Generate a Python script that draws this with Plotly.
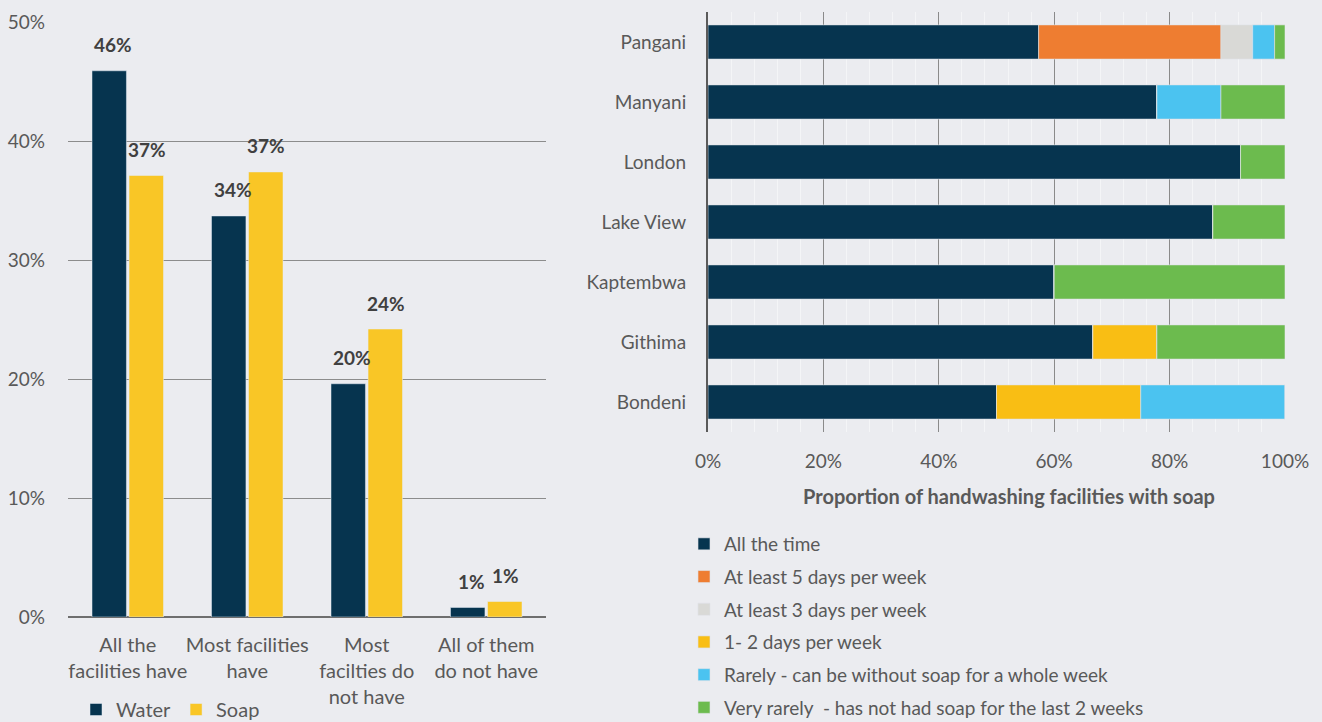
"""Handwashing facilities: water/soap availability and soap frequency by site."""

import plotly.graph_objects as go

# Left chart: availability of water and soap at facilities
avail_cats = [
    "All the<br>facilities have",
    "Most facilities<br>have",
    "Most<br>facilties do<br>not have",
    "All of them<br>do not have",
]
water = [45.9, 33.7, 19.6, 0.8]
soap = [37.1, 37.4, 24.2, 1.3]

# Right chart: proportion of facilities with soap, by site
sites = ["Pangani", "Manyani", "London", "Lake View", "Kaptembwa", "Githima", "Bondeni"]
freq_names = [
    "All the time",
    "At least 5 days per week",
    "At least 3 days per week",
    "1- 2 days per week",
    "Rarely - can be without soap for a whole week",
    "Very rarely  - has not had soap for the last 2 weeks",
]
all_the_time = [57.3, 77.8, 92.3, 87.5, 60.0, 66.7, 50.0]
at_least_5 = [31.6, 0, 0, 0, 0, 0, 0]
at_least_3 = [5.5, 0, 0, 0, 0, 0, 0]
one_two_days = [0, 0, 0, 0, 0, 11.1, 25.0]
rarely = [3.8, 11.1, 0, 0, 0, 0, 25.0]
very_rarely = [1.8, 11.1, 7.7, 12.5, 40.0, 22.2, 0]

freq_values = [all_the_time, at_least_5, at_least_3, one_two_days, rarely, very_rarely]
freq_colors = ["#06344f", "#ee7d31", "#d9d9d6", "#f9be14", "#4bc3f0", "#6cbb4e"]

BG = "#ebecf0"
TEXT = "#595959"
FONT = "Lato"
W, H = 1322, 722

fig = go.Figure()

# Left grouped bars
fig.add_trace(go.Bar(
    x=avail_cats, y=water, name="Water", marker_color="#06344f",
    legend="legend2", xaxis="x", yaxis="y",
))
fig.add_trace(go.Bar(
    x=avail_cats, y=soap, name="Soap", marker_color="#f9c626",
    legend="legend2", xaxis="x", yaxis="y",
))

# Value labels above the left bars
for vals, offset in [(water, -0.12), (soap, 0.16)]:
    for i, v in enumerate(vals):
        fig.add_annotation(
            x=i + offset, y=v, xref="x", yref="y", text=f"<b>{round(v):.0f}%</b>",
            showarrow=False, yshift=26, font=dict(size=19, color="#404040", family=FONT),
        )

# Right stacked bars (stacked by hand, sharing one offset group)
base = [0.0] * len(sites)
for name, vals, color in zip(freq_names, freq_values, freq_colors):
    fig.add_trace(go.Bar(
        y=sites, x=vals, base=list(base), name=name, orientation="h",
        marker_color=color, marker_line=dict(width=0.6, color="#dfe3e8"),
        offsetgroup="freq", width=0.57,
        legendgroup=name, xaxis="x2", yaxis="y2",
    ))
    base = [b + v for b, v in zip(base, vals)]

fig.add_annotation(
    x=1009 / W, y=1 - 496 / H, xref="paper", yref="paper",
    xanchor="center", yanchor="middle",
    text="<b>Proportion of handwashing facilities with soap</b>",
    showarrow=False, font=dict(size=20, color=TEXT, family=FONT),
)

fig.update_layout(
    width=W, height=H,
    margin=dict(l=0, r=0, t=0, b=0, autoexpand=False),
    paper_bgcolor=BG, plot_bgcolor=BG,
    font=dict(family=FONT, size=19, color=TEXT),
    barmode="group",
    bargap=0.38, bargroupgap=0.07,
    xaxis=dict(
        domain=[68 / W, 546 / W], anchor="y", showgrid=False, automargin=False,
        tickangle=0, tickfont=dict(size=20), ticklabelstandoff=14,
    ),
    yaxis=dict(
        domain=[1 - 617 / H, 1 - 22 / H], anchor="x", range=[0, 50], automargin=False,
        dtick=10, ticksuffix="%", showgrid=True, gridcolor="#8c8c8c", gridwidth=1,
        zeroline=True, zerolinecolor="#6e6e6e", zerolinewidth=2,
        ticklabelstandoff=22, tickfont=dict(size=19),
    ),
    xaxis2=dict(
        domain=[708 / W, 1285 / W], anchor="y2", range=[0, 100], automargin=False,
        dtick=20, ticksuffix="%", showgrid=True, gridcolor="#8a8a8a", gridwidth=1,
        minor=dict(dtick=4, showgrid=True, gridcolor="#f4f5f7", gridwidth=1),
        zeroline=False, ticklabelstandoff=16, tickfont=dict(size=19),
    ),
    yaxis2=dict(
        domain=[1 - 432 / H, 1 - 12 / H], anchor="x2", autorange="reversed",
        automargin=False, showline=True, linecolor="#5a5a5a", linewidth=2,
        ticklabelstandoff=16, tickfont=dict(size=19),
    ),
    legend=dict(
        x=684 / W, y=1 - 525 / H, xanchor="left", yanchor="top",
        orientation="v", traceorder="grouped", tracegroupgap=5,
        itemwidth=30, font=dict(size=19, color=TEXT), bgcolor="rgba(0,0,0,0)",
    ),
    legend2=dict(
        x=76 / W, y=1 - 690 / H, xanchor="left", yanchor="top",
        orientation="h", font=dict(size=20, color=TEXT), bgcolor="rgba(0,0,0,0)",
    ),
)

fig.write_html(
    "out.html",
    config={"displayModeBar": False},
    post_script="document.body.style.margin='0';document.body.style.overflow='hidden';",
)
